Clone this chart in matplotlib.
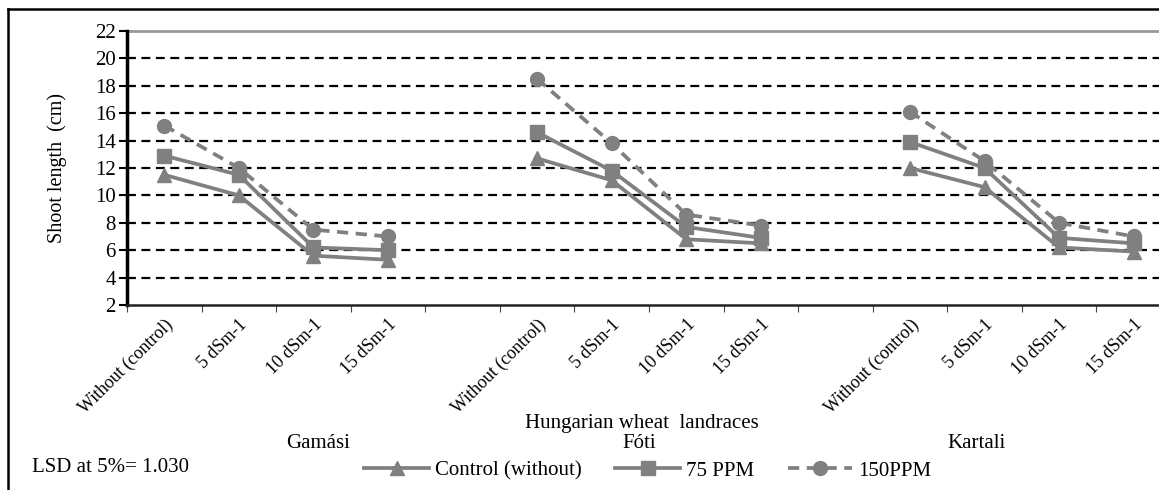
import matplotlib.pyplot as plt
import numpy as np
from matplotlib.lines import Line2D

plt.rcParams['font.family'] = ['Liberation Serif', 'DejaVu Serif']

# data
landraces = ['Gamási', 'Fóti', 'Kartali']
salinity = ['Without (control)', '5 dSm-1', '10 dSm-1', '15 dSm-1']
control = [11.5, 10.0, 5.6, 5.3,
           12.7, 11.1, 6.8, 6.5,
           12.0, 10.6, 6.2, 5.9]
ppm75 = [12.9, 11.5, 6.2, 6.0,
         14.6, 11.8, 7.7, 6.9,
         13.9, 12.0, 6.9, 6.5]
ppm150 = [15.1, 12.0, 7.5, 7.0,
          18.5, 13.8, 8.6, 7.8,
          16.1, 12.5, 8.0, 7.0]

W, H = 1159, 490
fig = plt.figure(figsize=(W / 100, H / 100), dpi=100)
ax = fig.add_axes([127 / W, 1 - 305 / H, (1171 - 127) / W, (305 - 31) / H])

# x slots: 4 per landrace with one empty slot between groups
xs = []
for g in range(3):
    xs.append(np.arange(4) + 5 * g + 0.5)
grey = '#808080'
lw = 2.7
ms = 10
for i in range(3):
    x = xs[i]
    sl = slice(4 * i, 4 * i + 4)
    ax.plot(x, control[sl], '-', color=grey, lw=lw, marker='^', ms=ms, zorder=3)
    ax.plot(x, ppm75[sl], '-', color=grey, lw=lw, marker='s', ms=ms, zorder=3)
    ax.plot(x, ppm150[sl], '--', color=grey, lw=lw, marker='o', ms=ms, zorder=3,
            dashes=(3, 2))

ax.set_xlim(0, 14)
ax.set_ylim(2, 22)
ax.set_yticks(np.arange(2, 23, 2))
for v in range(4, 21, 2):
    ax.axhline(v, color='black', ls=(0, (4, 2.5)), lw=1.6, zorder=1)
ax.axhline(22, color='#999999', lw=2, zorder=1, clip_on=False)

ticks = np.concatenate(xs)
ax.set_xticks(np.arange(0, 15))
ax.set_xticks(ticks, minor=True)
ax.set_xticklabels([''] * 15)
ax.set_xticklabels(salinity * 3, minor=True, rotation=45, ha='right',
                   rotation_mode='anchor', fontsize=13)
ax.tick_params(axis='x', which='minor', length=0, pad=8)
ax.tick_params(axis='x', which='major', length=5, color='#444444', direction='out')
ax.tick_params(axis='y', length=6, width=1.5, labelsize=15, pad=2)

ax.spines['top'].set_visible(False)
ax.spines['right'].set_visible(False)
ax.spines['left'].set_linewidth(2.5)
ax.spines['bottom'].set_linewidth(1.8)
ax.spines['bottom'].set_color('#222222')
ax.set_ylabel('Shoot length  (cm)', fontsize=14.5, labelpad=20)

# group labels
fig.text(642 / W, 1 - 423 / H, 'Hungarian wheat  landraces', ha='center', va='center', fontsize=15)
for name, px in zip(landraces, [318, 639, 977]):
    fig.text(px / W, 1 - 443 / H, name, ha='center', va='center', fontsize=15)
fig.text(32 / W, 1 - 467 / H, 'LSD at 5%= 1.030', ha='left', va='center', fontsize=15)

# outer frame
fig.add_artist(Line2D([8 / W, 8 / W], [0, 1 - 9 / H], color='black', lw=1.8))
fig.add_artist(Line2D([8 / W, 1], [1 - 9 / H, 1 - 9 / H], color='black', lw=1.8))

handles = [
    Line2D([], [], color=grey, lw=lw, marker='^', ms=ms),
    Line2D([], [], color=grey, lw=lw, marker='s', ms=ms),
    Line2D([], [], color=grey, lw=lw, marker='o', ms=ms, ls='--', dashes=(3, 2)),
]
fig.legend(handles, ['Control (without)', '75 PPM', '150PPM'], ncol=3, frameon=False,
           loc='center', bbox_to_anchor=(648 / W, 1 - 471 / H), fontsize=15,
           handlelength=3.1, handletextpad=0.3, columnspacing=1.6)

fig.savefig('out.png', dpi=100)
